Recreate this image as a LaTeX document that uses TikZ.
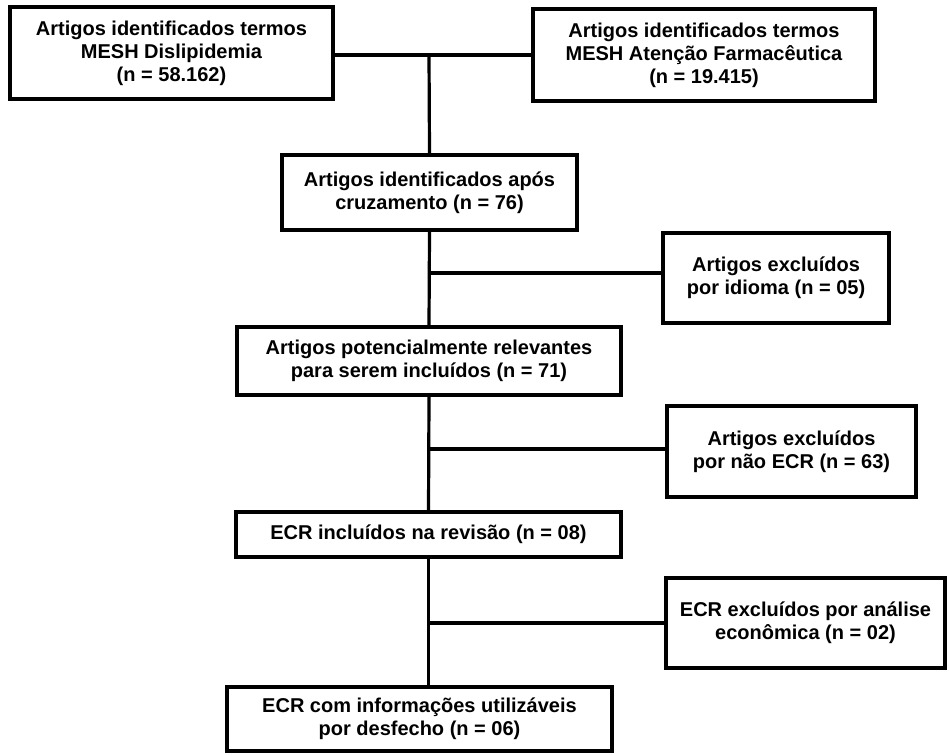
\documentclass[tikz,border=0pt]{standalone}
\usepackage{fontspec}
\setmainfont{Liberation Sans}
\begin{document}
\begin{tikzpicture}[x=1pt,y=-1pt,
  box/.style={draw=black, line width=3.5pt, fill=white, rectangle, align=center,
    inner sep=0pt, font=\fontsize{20}{23}\selectfont\bfseries},
  link/.style={draw=black, line width=3.2pt}]
\useasboundingbox (0,0) rectangle (949,754);
\node[box, minimum width=323pt, minimum height=92pt] (b1) at (171.5,53)
  {Artigos identificados termos\\MESH Dislipidemia\\(n = 58.162)};
\node[box, minimum width=342pt, minimum height=92pt] (b2) at (704,55)
  {Artigos identificados termos\\MESH Atenção Farmacêutica\\(n = 19.415)};
\node[box, minimum width=295pt, minimum height=75pt] (b3) at (429.5,192.5)
  {Artigos identificados após\\cruzamento (n = 76)};
\node[box, minimum width=226pt, minimum height=90pt] (b5) at (776,278)
  {Artigos excluídos\\por idioma (n = 05)};
\node[box, minimum width=384pt, minimum height=68pt] (b4) at (429,361)
  {Artigos potencialmente relevantes\\para serem incluídos (n = 71)};
\node[box, minimum width=249pt, minimum height=91pt] (b6) at (791.5,451.5)
  {Artigos excluídos\\por não ECR (n = 63)};
\node[box, minimum width=385pt, minimum height=45pt] (b7) at (428.5,534.5)
  {ECR incluídos na revisão (n = 08)};
\node[box, minimum width=279pt, minimum height=90pt] (b8) at (805.5,623)
  {ECR excluídos por análise\\econômica (n = 02)};
\node[box, minimum width=385pt, minimum height=64pt] (b9) at (419.5,719)
  {ECR com informações utilizáveis\\por desfecho (n = 06)};
\coordinate (j0) at (429,55);
\coordinate (j1) at (429,273);
\coordinate (j2) at (429,449);
\coordinate (j3) at (429,623);
\begin{scope}[on background layer/.try]
\end{scope}
\draw[link] (j0 -| b1.east) -- (j0 -| b2.west);
\draw[link] (j0) -- (b3.north);
\draw[link] (b3.south) -- (b4.north);
\draw[link] (j1) -- (j1 -| b5.west);
\draw[link] (b4.south) -- (b7.north);
\draw[link] (j2) -- (j2 -| b6.west);
\draw[link] (b7.south) -- (b7.south |- b9.north);
\draw[link] (j3) -- (j3 -| b8.west);
\end{tikzpicture}
\end{document}
